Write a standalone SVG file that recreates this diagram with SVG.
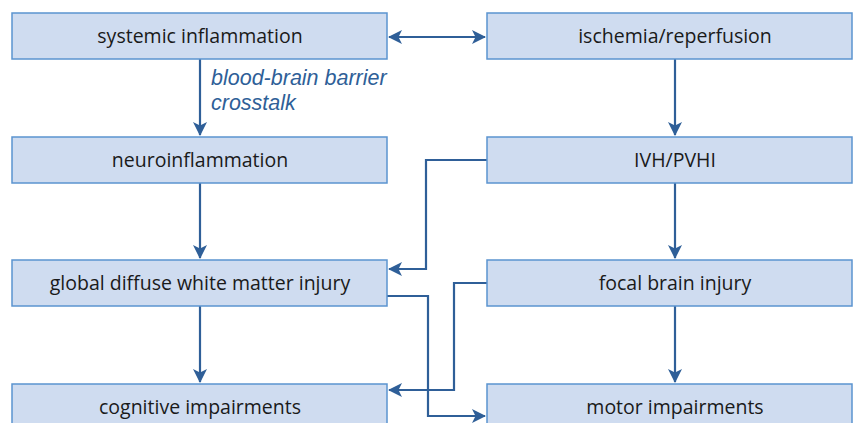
<svg xmlns="http://www.w3.org/2000/svg" width="853" height="423" viewBox="0 0 853 423">
<defs>
<style>
.box{fill:#cfdcf0;stroke:#5b94d0;stroke-width:1.5}
.t{font-family:"Open Sans","Noto Sans",sans-serif;font-size:19.5px;fill:#1a1a1a;text-anchor:middle}
.c{fill:none;stroke:#2f5f98;stroke-width:2.2}
.lbl{font-family:"Liberation Sans",Arial,sans-serif;font-size:21.5px;font-style:italic;fill:#2f5f98}
</style>
<marker id="a" viewBox="0 0 14 14" refX="13" refY="7" markerWidth="14" markerHeight="14" markerUnits="userSpaceOnUse" orient="auto-start-reverse">
<path d="M0,0 L14,7 L0,14 L3.5,7 Z" fill="#2f5f98"/>
</marker>
</defs>
<rect width="853" height="423" fill="#fff"/>
<g id="connectors">
<line class="c" x1="389" y1="37" x2="485" y2="37" marker-start="url(#a)" marker-end="url(#a)"/>
<line class="c" x1="200" y1="59" x2="200" y2="135" marker-end="url(#a)"/>
<line class="c" x1="675" y1="59" x2="675" y2="135" marker-end="url(#a)"/>
<line class="c" x1="200" y1="183" x2="200" y2="258" marker-end="url(#a)"/>
<line class="c" x1="675" y1="183" x2="675" y2="258" marker-end="url(#a)"/>
<line class="c" x1="200" y1="306" x2="200" y2="382" marker-end="url(#a)"/>
<line class="c" x1="675" y1="306" x2="675" y2="382" marker-end="url(#a)"/>
<polyline class="c" points="487,160 426,160 426,269 389,269" marker-end="url(#a)"/>
<polyline class="c" points="487,283 454,283 454,390 389,390" marker-end="url(#a)"/>
<polyline class="c" points="387,296 428,296 428,416 485,416" marker-end="url(#a)"/>
<text class="lbl" x="211" y="85">blood-brain barrier</text>
<text class="lbl" x="211" y="110">crosstalk</text>
</g>
<g id="systemic"><rect class="box" x="12" y="13" width="375" height="46"/><text class="t" x="200" y="43">systemic inflammation</text></g>
<g id="ischemia"><rect class="box" x="487" y="13" width="365" height="46"/><text class="t" x="675" y="43">ischemia/reperfusion</text></g>
<g id="neuro"><rect class="box" x="12" y="137" width="375" height="46"/><text class="t" x="200" y="167">neuroinflammation</text></g>
<g id="ivh"><rect class="box" x="487" y="137" width="365" height="46"/><text class="t" x="675" y="167">IVH/PVHI</text></g>
<g id="global"><rect class="box" x="12" y="260" width="375" height="46"/><text class="t" x="200" y="290">global diffuse white matter injury</text></g>
<g id="focal"><rect class="box" x="487" y="260" width="365" height="46"/><text class="t" x="675" y="290">focal brain injury</text></g>
<g id="cognitive"><rect class="box" x="12" y="384" width="375" height="46"/><text class="t" x="200" y="414">cognitive impairments</text></g>
<g id="motor"><rect class="box" x="487" y="384" width="365" height="46"/><text class="t" x="675" y="414">motor impairments</text></g>
</svg>
